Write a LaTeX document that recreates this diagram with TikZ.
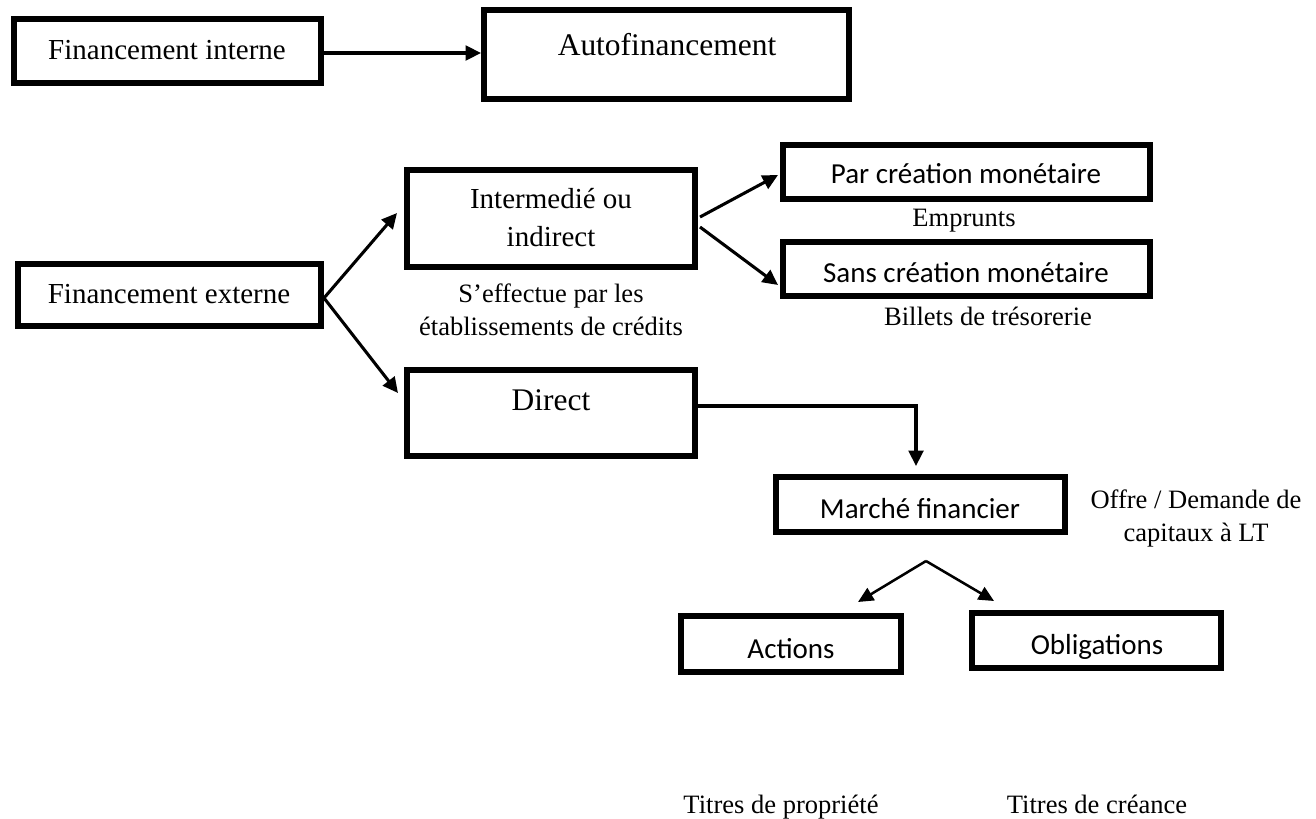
\documentclass[tikz,border=0pt]{standalone}
\usepackage{fontspec}
\setmainfont{Liberation Serif}
\newfontfamily\calibrifont{Carlito}
\usetikzlibrary{arrows.meta,calc}

\begin{document}
\begin{tikzpicture}[x=0.75pt,y=-0.75pt,
  box/.style 2 args={draw, line width=4.4pt, inner sep=0pt,
    minimum width={#1*0.75pt-4.4pt}, minimum height={#2*0.75pt-4.4pt}},
  lbl/.style={inner sep=0pt, anchor=base, font=\fontsize{21.75}{26}\selectfont},
  lblbig/.style={inner sep=0pt, anchor=base, font=\fontsize{23.6}{28}\selectfont},
  lblsans/.style={inner sep=0pt, anchor=base, font=\calibrifont\fontsize{21.75}{26}\selectfont},
  note/.style={inner sep=0pt, anchor=base, font=\fontsize{19.9}{24.75}\selectfont},
  notes/.style={inner sep=0pt, align=center, font=\fontsize{19.9}{24.75}\selectfont},
  arr/.style={line width=2.3pt, -{Triangle[length=11.5pt,width=11pt]}},
  arrthin/.style={line width=1.9pt, -{Triangle[length=11.5pt,width=10.5pt]}}
]
\useasboundingbox (0,0) rectangle (1316,818);

% internal financing
\node[box={313}{70}] (fi) at (167.5,51) {};
\node[lbl] (fit) at (167,59) {Financement interne};
\node[box={371}{95}] (af) at (666.5,54.5) {};
\node[lblbig] (aft) at (667,55) {Autofinancement};
\coordinate (fiout) at ($(fi.east)+(0,2)$);
\draw[arr] (fiout) -- (fiout -| af.west);

% external financing
\node[box={309}{68}] (fe) at (169.5,295) {};
\node[lbl] (fet) at (169,303) {Financement externe};

\node[box={294}{103}] (im) at (551,218.5) {};
\node[inner sep=0pt, align=center, font=\fontsize{21.75}{28.5}\selectfont] (imt) at (551,217.3) {Intermedié ou\\indirect};
\node[notes] (imn) at (551,309.5) {S’effectue par les\\établissements de crédits};

\node[box={294}{92}] (di) at (551,413) {};
\node[lblbig] (dit) at (551,410) {Direct};

% intermediated financing
\node[box={373}{60}] (pc) at (966.5,172) {};
\node[lblsans] (pct) at (966,183) {Par création monétaire};
\node[note] (pcn) at (964,226) {Emprunts};
\node[box={373}{60}] (sc) at (966.5,269) {};
\node[lblsans] (sct) at (966,282) {Sans création monétaire};
\node[note] (scn) at (988,325) {Billets de trésorerie};

% financial market
\node[box={295}{61}] (mf) at (920.5,504.5) {};
\node[lblsans] (mft) at (920,518) {Marché financier};
\node[notes] (mfn) at (1196,518.3) {Offre / Demande de\\capitaux à LT};

\node[box={226}{62}] (ac) at (791,644) {};
\node[lblsans] (act) at (791,658) {Actions};
\node[box={255}{61}] (ob) at (1096.5,640.5) {};
\node[lblsans] (obt) at (1097,654) {Obligations};
\node[note] (acn) at (781,813) {Titres de propriété};
\node[note] (obn) at (1097,813) {Titres de créance};

% connectors
\draw[arr] ($(fe.east)+(0,3)$) -- ($(im.west)+(-7,-5.5)$);
\draw[arr] ($(fe.east)+(0,3)$) -- ($(di.west)+(-6,-20)$);
\draw[arr] ($(im.east)+(2,-1.5)$) -- ($(pc.west)+(-2,3)$);
\draw[arr] ($(im.east)+(2,8.5)$) -- ($(sc.west)+(-2,16)$);
\draw[arr] ($(di.east)+(0,-7)$) -| ($(mf.north)+(-4.5,-8)$);
\coordinate (split) at ($(mf.south)+(5.5,26)$);
\draw[arrthin] (split) -- ($(ac.north)+(67,-11)$);
\draw[arrthin] (split) -- ($(ob.north)+(-102.5,-9)$);
\end{tikzpicture}
\end{document}
